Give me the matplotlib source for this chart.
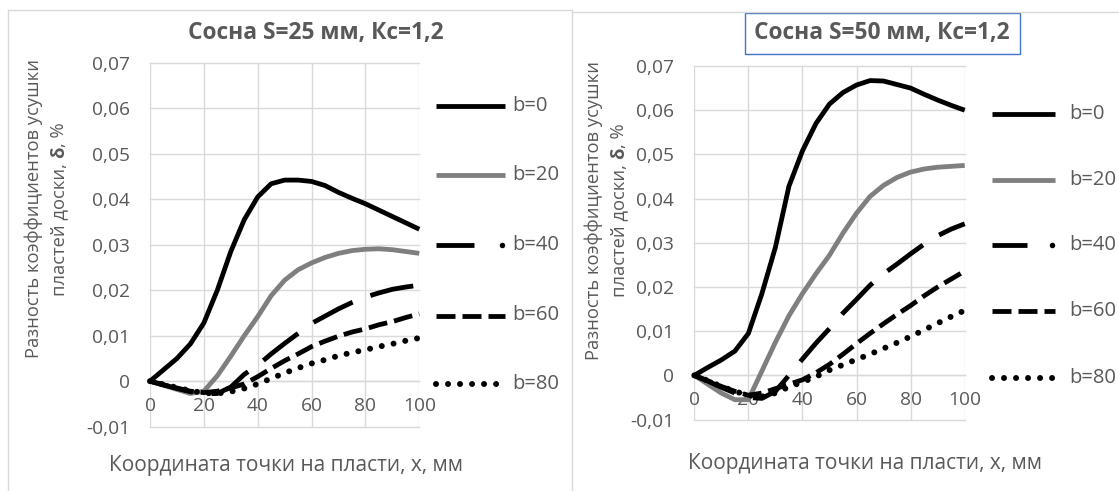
import matplotlib
matplotlib.use('Agg')
import matplotlib.pyplot as plt
from matplotlib.lines import Line2D
from matplotlib.patches import Rectangle

plt.rcParams['font.family'] = ['Open Sans', 'DejaVu Sans']
plt.rcParams['lines.scale_dashes'] = False

# ---------------- data ----------------
x_mm = [0, 5, 10, 15, 20, 25, 30, 35, 40, 45, 50, 55, 60, 65, 70, 75, 80, 85, 90, 95, 100]
series_names = ['b=0', 'b=20', 'b=40', 'b=60', 'b=80']

left_b0 = [0, 0.0025, 0.0050, 0.0082, 0.0128, 0.0200, 0.0285, 0.0355, 0.0405, 0.0434, 0.0442,
           0.0442, 0.0439, 0.0430, 0.0415, 0.0402, 0.0390, 0.0376, 0.0362, 0.0348, 0.0334]
left_b20 = [0, -0.0009, -0.0018, -0.0027, -0.0022, 0.0012, 0.0055, 0.0100, 0.0142, 0.0188, 0.0222,
            0.0245, 0.0260, 0.0272, 0.0281, 0.0287, 0.0290, 0.0291, 0.0289, 0.0285, 0.0281]
left_b40 = [0, -0.0008, -0.0016, -0.0023, -0.0028, -0.0027, -0.0013, 0.0015, 0.0035, 0.0060, 0.0083,
            0.0105, 0.0127, 0.0143, 0.0159, 0.0173, 0.0185, 0.0194, 0.0202, 0.0207, 0.0211]
left_b60 = [0, -0.0008, -0.0015, -0.0022, -0.0025, -0.0022, -0.0015, -0.0006, 0.0010, 0.0028, 0.0045,
            0.0060, 0.0076, 0.0088, 0.0099, 0.0108, 0.0115, 0.0124, 0.0131, 0.0140, 0.0148]
left_b80 = [0, -0.0007, -0.0014, -0.0021, -0.0026, -0.0027, -0.0023, -0.0016, -0.0006, 0.0006, 0.0018,
            0.0029, 0.0039, 0.0047, 0.0056, 0.0063, 0.0069, 0.0076, 0.0082, 0.0089, 0.0095]

right_b0 = [0, 0.0018, 0.0035, 0.0055, 0.0095, 0.0185, 0.0290, 0.0428, 0.0508, 0.0570, 0.0614,
            0.0640, 0.0657, 0.0667, 0.0666, 0.0658, 0.0650, 0.0636, 0.0623, 0.0611, 0.0600]
right_b20 = [0, -0.0020, -0.0040, -0.0055, -0.0055, 0.0010, 0.0075, 0.0135, 0.0185, 0.0230, 0.0272,
             0.0322, 0.0367, 0.0405, 0.0430, 0.0448, 0.0460, 0.0467, 0.0471, 0.0473, 0.0475]
right_b40 = [0, -0.0013, -0.0027, -0.0040, -0.0050, -0.0052, -0.0036, 0.0000, 0.0037, 0.0073, 0.0106,
             0.0141, 0.0172, 0.0204, 0.0230, 0.0252, 0.0275, 0.0297, 0.0316, 0.0331, 0.0343]
right_b60 = [0, -0.0012, -0.0025, -0.0036, -0.0045, -0.0040, -0.0030, -0.0020, -0.0010, 0.0006, 0.0025,
             0.0048, 0.0072, 0.0095, 0.0117, 0.0138, 0.0158, 0.0180, 0.0200, 0.0218, 0.0236]
right_b80 = [0, -0.0012, -0.0025, -0.0036, -0.0045, -0.0048, -0.0040, -0.0026, -0.0015, -0.0003, 0.0012,
             0.0024, 0.0036, 0.0048, 0.0061, 0.0074, 0.0088, 0.0103, 0.0118, 0.0133, 0.0147]

left_title = 'Сосна S=25 мм, Кс=1,2'
right_title = 'Сосна S=50 мм, Кс=1,2'
x_label = 'Координата точки на пласти, х, мм'
y_label_1 = 'Разность коэффициентов усушки'
y_label_2 = ['пластей доски, ', 'δ', ', %']

x_ticks = [0, 20, 40, 60, 80, 100]
x_tick_labels = ['0', '20', '40', '60', '80', '100']
y_ticks = [-0.01, 0, 0.01, 0.02, 0.03, 0.04, 0.05, 0.06, 0.07]
y_tick_labels = ['-0,01', '0', '0,01', '0,02', '0,03', '0,04', '0,05', '0,06', '0,07']

# ---------------- layout ----------------
W, H = 1119, 491
PX = 0.72  # points per pixel at dpi 100
TXT = '#595959'
GRID = '#d9d9d9'

fig = plt.figure(figsize=(W / 100, H / 100), dpi=100)
renderer = fig.canvas.get_renderer()


def rect(l, t, r, b):
    return [l / W, 1 - b / H, (r - l) / W, (b - t) / H]


def fit(t, target, dim='w'):
    for _ in range(3):
        bb = t.get_window_extent(renderer)
        cur = bb.width if dim == 'w' else bb.height
        t.set_fontsize(t.get_fontsize() * target / cur)


overlay = fig.add_axes([0, 0, 1, 1], zorder=0)
overlay.set_xlim(0, W)
overlay.set_ylim(H, 0)
overlay.axis('off')

# tick font size from measuring sample
probe = overlay.text(0, 0, '0,07', fontsize=12)
fit(probe, 38)
tick_fs = probe.get_fontsize()
probe.remove()

LW = 4.8 * PX
styles = [
    dict(color='black', lw=LW, linestyle='-', solid_capstyle='butt'),
    dict(color='#7f7f7f', lw=LW, linestyle='-', solid_capstyle='butt'),
    dict(color='black', lw=LW, linestyle=(0, (44 * PX, 19 * PX)), dash_capstyle='butt'),
    dict(color='black', lw=LW, linestyle=(0, (19 * PX, 7 * PX)), dash_capstyle='butt'),
    dict(color='black', lw=6.0 * PX, linestyle=(0, (0.01, 12 * PX)), dash_capstyle='round'),
]

panels = [
    dict(ax_rect=(150, 62.7, 419.3, 426.7), data=[left_b0, left_b20, left_b40, left_b60, left_b80],
         title=left_title, title_c=(316, 33.4), title_w=256, box=None,
         xlab_c=(286, 466), xlab_w=354, ylab_x=(34, 59), ylab_c=209, ylab_len=297,
         leg_y=[106, 175, 245, 315.5, 384], leg_x=(435.5, 505.4, 512.5)),
    dict(ax_rect=(694.3, 66, 964.7, 419.6), data=[right_b0, right_b20, right_b40, right_b60, right_b80],
         title=right_title, title_c=(882, 33.4), title_w=257, box=(744.6, 12.7, 1019.9, 54.1),
         xlab_c=(865, 464), xlab_w=355, ylab_x=(594, 619), ylab_c=210, ylab_len=297,
         leg_y=[113.5, 179.6, 245.4, 311, 378], leg_x=(992, 1055, 1069)),
]

# panel frames
overlay.plot([8, 572], [10, 10], color=GRID, lw=1.0, solid_capstyle='butt')
overlay.plot([8, 8], [10, H], color=GRID, lw=1.0)
overlay.plot([572, 572], [10, H], color=GRID, lw=1.0)
overlay.plot([572, W], [12, 12], color=GRID, lw=1.0)

legend_fs = None
for p in panels:
    ax = fig.add_axes(rect(*p['ax_rect']), zorder=1)
    ax.patch.set_alpha(0)
    for vals, st in zip(p['data'], styles):
        ax.plot(x_mm, vals, clip_on=False, solid_joinstyle='round', zorder=3, **st)
    ax.set_xlim(0, 100)
    ax.set_ylim(-0.01, 0.07)
    ax.set_xticks(x_ticks)
    ax.set_xticklabels(x_tick_labels)
    ax.set_yticks(y_ticks)
    ax.set_yticklabels(y_tick_labels)
    ax.grid(True, color=GRID, lw=1.4 * PX, zorder=0)
    for gl in ax.get_xgridlines() + ax.get_ygridlines():
        gl.set_clip_on(False)
    for s in ['left', 'right', 'top']:
        ax.spines[s].set_visible(False)
    ax.spines['bottom'].set_position(('data', 0))
    ax.spines['bottom'].set_color(GRID)
    ax.spines['bottom'].set_linewidth(1.4 * PX)
    ax.tick_params(axis='both', length=0, labelsize=tick_fs, labelcolor=TXT)
    ax.tick_params(axis='y', pad=20 * PX)
    ax.tick_params(axis='x', pad=16 * PX)
    ax.set_axisbelow(True)

    # title
    t = overlay.text(*p['title_c'], p['title'], ha='center', va='center', weight='bold',
                     color=TXT, fontsize=15)
    fit(t, p['title_w'])
    if p['box']:
        l, tp, r, b = p['box']
        overlay.add_patch(Rectangle((l, tp), r - l, b - tp, fill=False, edgecolor='#4472c4', lw=1.0))

    # x label
    t = overlay.text(*p['xlab_c'], x_label, ha='center', va='center', color=TXT, fontsize=13)
    fit(t, p['xlab_w'])

    # y label line 1
    t1 = overlay.text(p['ylab_x'][0], p['ylab_c'], y_label_1, rotation=90, ha='center', va='center',
                      color=TXT, fontsize=13)
    fit(t1, p['ylab_len'], dim='h')
    yfs = t1.get_fontsize()
    # y label line 2 (mixed weight)
    parts = []
    for i, s in enumerate(y_label_2):
        parts.append(overlay.text(p['ylab_x'][1], 0, s, rotation=90, ha='center', va='bottom',
                                  color=TXT, fontsize=yfs, weight='bold' if i == 1 else 'normal'))
    heights = [pt.get_window_extent(renderer).height for pt in parts]
    total = sum(heights)
    cur = p['ylab_c'] + total / 2
    for pt, h in zip(parts, heights):
        pt.set_y(cur)
        cur -= h

    # legend
    x0, x1, xt = p['leg_x']
    for name, st, yy in zip(series_names, styles, p['leg_y']):
        if name == 'b=40':
            overlay.plot([x0, x0 + 0.55 * (x1 - x0)], [yy, yy], color='black', lw=st['lw'],
                         solid_capstyle='butt')
            overlay.plot([x1 - 3], [yy], 'o', color='black', ms=5.5 * PX, mew=0)
        else:
            kw = dict(st)
            overlay.add_line(Line2D([x0, x1], [yy, yy], **kw))
        tt = overlay.text(xt, yy, name, ha='left', va='center', color=TXT, fontsize=15)
        if legend_fs is None:
            probe = overlay.text(0, 0, 'b=20', fontsize=15)
            fit(probe, 47)
            legend_fs = probe.get_fontsize()
            probe.remove()
        tt.set_fontsize(legend_fs)

fig.savefig('out.png', dpi=100)
